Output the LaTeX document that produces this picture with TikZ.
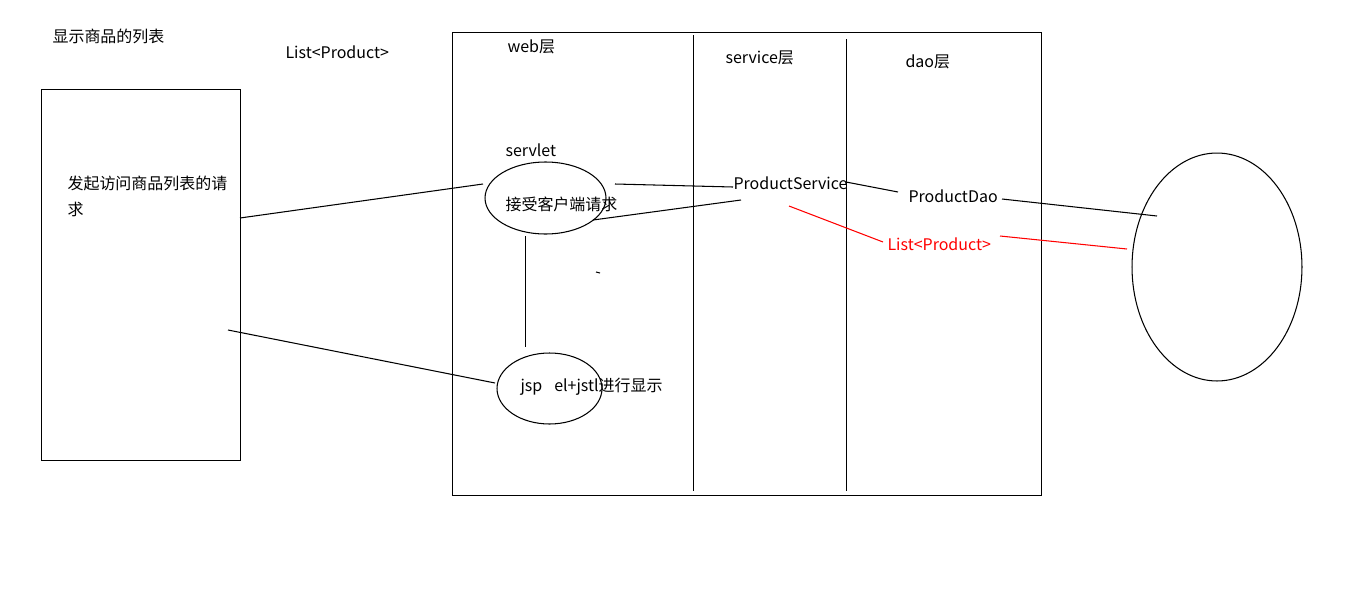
\documentclass[tikz,border=0pt]{standalone}
\usepackage{fontspec}
\setmainfont{Noto Sans CJK SC}
\usetikzlibrary{shapes.geometric}

\tikzset{
	lbl/.style={inner sep=0pt,anchor=west,font=\fontsize{9.1}{15.3}\selectfont},
	box/.style={draw=black,inner sep=0pt,anchor=north west},
	oval/.style={shape=ellipse,draw=black,inner sep=0pt}
}

\begin{document}
\begin{tikzpicture}[x=0.02cm,y=-0.02cm,line width=0.6pt]
	\useasboundingbox (0,0) rectangle (1350,609);
	
	\node[lbl] (t) at (52,36)     {显示商品的列表};
	\node[lbl] (l) at (285,52)    {List<Product>};
	
	\node[box,minimum width=3.98cm,minimum height=7.42cm] (r) at (41,89) {};
	\node[lbl,anchor=north west,align=left] (q) at (67,175) {发起访问商品列表的请\\求};
	
	\node[box,minimum width=11.78cm,minimum height=9.26cm] (w) at (452,32) {};
	\draw (693.5,35) -- (693.5,491);
	\draw (846.5,39) -- (846.5,491);
	
	\node[lbl] (wl) at (507,47)   {web层};
	\node[lbl] (sl) at (725,58)   {service层};
	\node[lbl] (dl) at (905,62)   {dao层};
	
	\node[lbl] (sv) at (505,150)  {servlet};
	\node[oval,minimum width=2.42cm,minimum height=1.44cm] (s) at (545.5,198) {};
	\node[lbl] (k) at (505,204)   {接受客户端请求};
	
	\node[oval,minimum width=2.1cm,minimum height=1.42cm] (j) at (549.5,388.5) {};
	\node[lbl] (jt) at (520,387)  {jsp\hspace{0.24cm}el+jstl进行显示};
	
	\node[lbl] (ps) at (733,183)  {ProductService};
	\node[lbl] (pd) at (908,196)  {ProductDao};
	\node[lbl,text=red] (pl) at (887,244) {List<Product>};
	
	\node[oval,minimum width=3.4cm,minimum height=4.56cm] (d) at (1217,267) {};
	
	% free ends of the connectors
	\coordinate (r1) at (240,218);
	\coordinate (r2) at (228,330);
	\coordinate (s1) at (483,184);
	\coordinate (s2) at (615,184);
	\coordinate (s3) at (593,220);
	\coordinate (s4) at (525.5,236);
	\coordinate (j1) at (495,383);
	\coordinate (j2) at (525.5,347);
	\coordinate (p1) at (733,187);
	\coordinate (p2) at (741,200);
	\coordinate (p3) at (789,206);
	\coordinate (p4) at (846,182);
	\coordinate (p5) at (898,192);
	\coordinate (p6) at (1002,199);
	\coordinate (d1) at (1157,216);
	\coordinate (d2) at (1127,249);
	\coordinate (c1) at (883,242);
	\coordinate (c2) at (1000,236);
	
	\path[-] (r1) edge (s1);
	\path[-] (s2) edge (p1);
	\path[-] (s3) edge (p2);
	\path[-] (s4) edge (j2);
	\path[-] (r2) edge (j1);
	\path[-] (p4) edge (p5);
	\path[-] (p6) edge (d1);
	\path[-,red] (p3) edge (c1);
	\path[-,red] (c2) edge (d2);
	\draw (596,272) -- (600,273);
\end{tikzpicture}
\end{document}
